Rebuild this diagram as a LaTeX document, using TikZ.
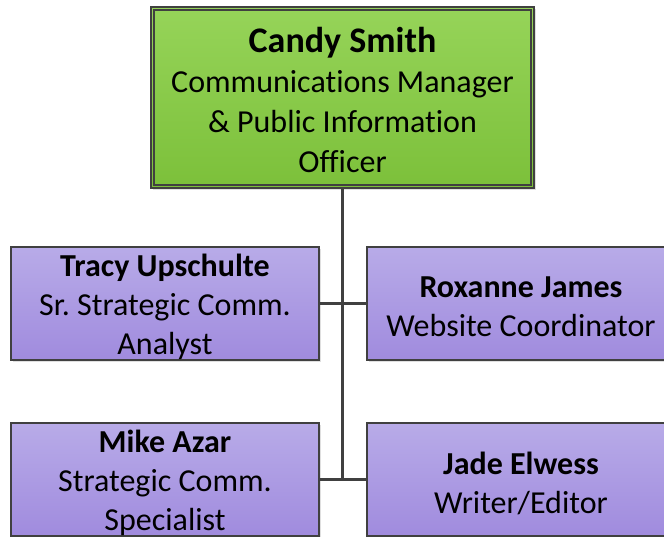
\documentclass[tikz,border=0pt]{standalone}
\usepackage{fontspec}
\setmainfont[Ligatures=NoCommon]{Carlito}
\frenchspacing
\usetikzlibrary{shadows}
\definecolor{edge}{HTML}{404040}
\definecolor{gtop}{HTML}{96D459}
\definecolor{gbot}{HTML}{7CC03A}
\definecolor{ptop}{HTML}{B8ABE8}
\definecolor{pbot}{HTML}{A08BDE}
\tikzset{
  box/.style={draw=edge, line width=1.6pt, inner sep=0pt,
    drop shadow={opacity=0.25, shadow xshift=2pt, shadow yshift=-2pt}},
  boxtext/.style={align=center, font=\fontsize{32}{39}\selectfont, yshift=-3.5pt},
  greenbox/.style={box, top color=gtop, bottom color=gbot, minimum width=383pt, minimum height=181pt},
  purplebox/.style={box, top color=ptop, bottom color=pbot, minimum width=308pt, minimum height=113pt},
  conn/.style={draw=edge, line width=2.4pt},
}
\newcommand{\nm}[1]{{\fontsize{32}{39}\selectfont\bfseries #1}}
\begin{document}
\begin{tikzpicture}[x=1pt,y=-1pt]
\useasboundingbox (0,0) rectangle (664,537);
\node[greenbox, label={[boxtext, font=\fontsize{32}{40}\selectfont, yshift=1.5pt]center:{{\fontsize{36}{40}\selectfont\bfseries Candy Smith}\\Communications Manager\\\& Public Information\\Officer}}] (top) at (342.5,97.5) {};
\draw[edge, line width=1.6pt] ([shift={(4pt,-4pt)}]top.north west) rectangle ([shift={(-4pt,4pt)}]top.south east);
\node[purplebox, label={[boxtext]center:{\nm{Tracy Upschulte}\\Sr. Strategic Comm.\\Analyst}}] (tracy) at (165,303.5) {};
\node[purplebox, label={[boxtext]center:{\nm{Roxanne James}\\Website Coordinator}}] (roxanne) at (521,303.5) {};
\node[purplebox, label={[boxtext]center:{\nm{Mike Azar}\\Strategic Comm.\\Specialist}}] (mike) at (165,479.5) {};
\node[purplebox, label={[boxtext]center:{\nm{Jade Elwess}\\Writer/Editor}}] (jade) at (521,479.5) {};
\coordinate (bend) at (top.south |- mike.east);
\draw[conn] (top.south) -- (bend);
\draw[conn] (tracy.east) -- (roxanne.west);
\draw[conn] (mike.east) -- (jade.west);
\end{tikzpicture}
\end{document}
